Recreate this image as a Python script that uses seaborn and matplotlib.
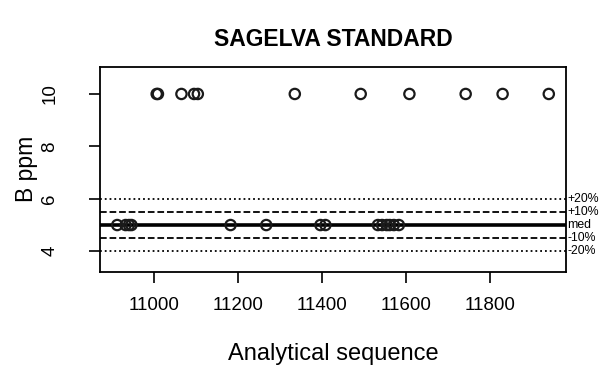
import pandas as pd
import numpy as np
import matplotlib.pyplot as plt
import seaborn as sns

# values
seq_high = [11006, 11009, 11065, 11095, 11104, 11335, 11492, 11608, 11742, 11830, 11940]
b_high = [10] * len(seq_high)
seq_low = [10912, 10932, 10940, 10946, 11182, 11267, 11396, 11408,
           11533, 11543, 11554, 11561, 11571, 11583]
b_low = [5] * len(seq_low)

median = 5.0
bands = [(0.2, ':'), (0.1, '--')]
band_labels = ['+20%', '+10%', 'med', '-10%', '-20%']

df = pd.DataFrame({
    'seq': seq_high + seq_low,
    'B': b_high + b_low,
})

sns.set_style("white")
plt.rcParams['font.family'] = ['Liberation Sans', 'DejaVu Sans']
plt.rcParams['text.color'] = 'black'
plt.rcParams['axes.labelcolor'] = 'black'
plt.rcParams['xtick.color'] = 'black'
plt.rcParams['ytick.color'] = 'black'

fig = plt.figure(figsize=(5.99, 3.67), dpi=100)
ax = fig.add_axes([100/599, 1-271.7/367, 466/599, 205/367])

# reference lines (median +/- 10% / 20%)
ax.axhline(median, color='black', lw=2.6, zorder=1)
for frac, ls in bands:
    ax.axhline(median*(1+frac), color='black', lw=1.3, ls=ls, zorder=1)
    ax.axhline(median*(1-frac), color='black', lw=1.3, ls=ls, zorder=1)

sns.scatterplot(data=df, x='seq', y='B', ax=ax, marker='o', s=55,
                facecolor='none', edgecolor='#1a1a1a', linewidth=1.6, zorder=3)

ax.set_xlim(10871, 11981)
ax.set_ylim(3.22, 11.04)
ax.set_xticks([11000, 11200, 11400, 11600, 11800])
ax.set_yticks([4, 6, 8, 10])
ax.tick_params(axis='both', length=8, width=1.2, labelsize=13.5,
               bottom=True, left=True)
ax.tick_params(axis='x', pad=10)
ax.tick_params(axis='y', pad=22)
plt.setp(ax.get_yticklabels(), rotation=90, va='center')
for sp in ax.spines.values():
    sp.set_visible(True)
    sp.set_color('black')
    sp.set_linewidth(1.3)

ax.set_xlabel('Analytical sequence', fontsize=17, labelpad=21)
ax.set_ylabel('B ppm', fontsize=16.5)
ax.yaxis.set_label_coords(-0.133, 0.5)
ax.set_title('SAGELVA STANDARD', fontsize=16.5, fontweight='bold', pad=15)

label_vals = [median*1.2, median*1.1, median, median*0.9, median*0.8]
for v, lab in zip(label_vals, band_labels):
    ax.text(1.003, v, lab, transform=ax.get_yaxis_transform(), fontsize=8.8,
            va='center', ha='left', clip_on=False)

fig.savefig('out.png', dpi=100)
